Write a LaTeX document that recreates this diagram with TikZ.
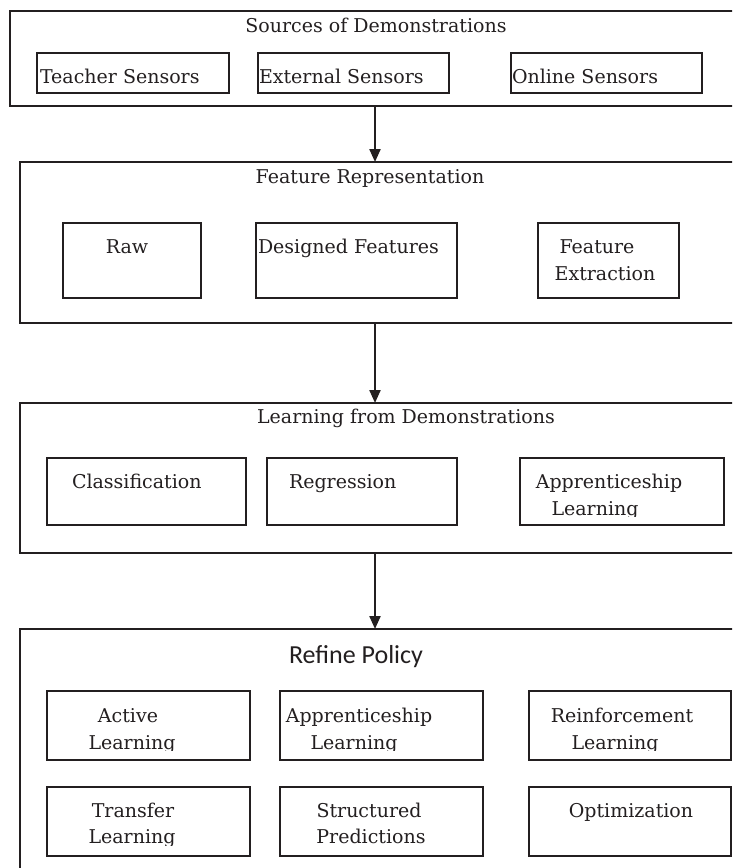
\documentclass[tikz,border=0pt]{standalone}
\usepackage{fontspec}
\setmainfont{DejaVu Serif}
\newfontfamily\calib{Carlito}
\usetikzlibrary{arrows.meta}
\definecolor{ink}{HTML}{231F20}
\begin{document}
\begin{tikzpicture}[x=1pt,y=-1pt,
  obox/.style={draw=ink, line width=2.4pt, inner sep=0pt, outer sep=0pt, rectangle},
  ibox/.style={draw=ink, line width=2.8pt, inner sep=0pt, outer sep=0pt, rectangle},
  txt/.style={inner sep=0pt, outer sep=0pt, text=ink, font=\fontsize{19}{22}\selectfont, anchor=base},
  ltxt/.style={txt, anchor=base west},
  arr/.style={draw=ink, line width=2.2pt, -{Triangle[width=11pt,length=13pt]}}
]
\clip (0,0) rectangle (732,868);
\fill[white] (0,0) rectangle (732,868);

% ---- Sources of Demonstrations
\node[obox, minimum width=735pt, minimum height=95pt] (b1) at (377.5,58.5) {};
\node[txt] (t1) at (376,32) {Sources of Demonstrations};
\node[ibox, minimum width=192pt, minimum height=40pt] (teach) at (133,73) {};
\node[ibox, minimum width=191pt, minimum height=40pt] (ext) at (353.5,73) {};
\node[ibox, minimum width=191pt, minimum height=40pt] (onl) at (606.5,73) {};
\node[ltxt] (teachT) at (40,83) {Teacher Sensors};
\node[ltxt] (extT) at (259,83) {External Sensors};
\node[ltxt] (onlT) at (512,83) {Online Sensors};

% ---- Feature Representation
\node[obox, minimum width=725pt, minimum height=161pt] (b2) at (382.5,242.5) {};
\node[txt] (t2) at (370,183) {Feature Representation};
\node[ibox, minimum width=138pt, minimum height=75pt] (raw) at (132,260.5) {};
\node[ibox, minimum width=201pt, minimum height=75pt] (des) at (356.5,260.5) {};
\node[ibox, minimum width=141pt, minimum height=75pt] (fex) at (608.5,260.5) {};
\node[txt] (rawT) at (127,253) {Raw};
\node[ltxt] (desT) at (258,253) {Designed Features};
\node[txt] (fexA) at (597,253) {Feature};
\node[txt] (fexB) at (605,280) {Extraction};

% ---- Learning from Demonstrations
\node[obox, minimum width=725pt, minimum height=150pt] (b3) at (382.5,478) {};
\node[txt] (t3) at (406,423) {Learning from Demonstrations};
\node[ibox, minimum width=199pt, minimum height=67pt] (cls) at (146.5,491.5) {};
\node[ibox, minimum width=190pt, minimum height=67pt] (reg) at (362,491.5) {};
\node[ibox, minimum width=204pt, minimum height=67pt] (app1) at (622,491.5) {};
\node[ltxt] (clsT) at (72,488) {Classification};
\node[ltxt] (regT) at (289,488) {Regression};
\node[txt] (app1A) at (609,488) {Apprenticeship};
\begin{scope}
\clip (520,458) rectangle (724,516.5);
\node[txt] (app1B) at (595,515) {Learning};
\end{scope}

% ---- Refine Policy
\node[obox, minimum width=725pt, minimum height=256pt] (b4) at (382.5,757) {};
\node[txt, font=\calib\fontsize{26}{30}\selectfont] (t4) at (356,663) {Refine Policy};
\node[ibox, minimum width=203pt, minimum height=69pt] (act) at (148.5,725.5) {};
\node[ibox, minimum width=203pt, minimum height=69pt] (app2) at (381.5,725.5) {};
\node[ibox, minimum width=202pt, minimum height=69pt] (rein) at (630,725.5) {};
\node[ibox, minimum width=203pt, minimum height=69pt] (trans) at (148.5,821.5) {};
\node[ibox, minimum width=203pt, minimum height=69pt] (struct) at (381.5,821.5) {};
\node[ibox, minimum width=202pt, minimum height=69pt] (opt) at (630,821.5) {};
\node[txt] (actA) at (128,722) {Active};
\node[txt] (app2A) at (359,722) {Apprenticeship};
\node[txt] (reinA) at (622,722) {Reinforcement};
\begin{scope}
\clip (40,691) rectangle (732,750.5);
\node[txt] (actB) at (132,749) {Learning};
\node[txt] (app2B) at (354,749) {Learning};
\node[txt] (reinB) at (615,749) {Learning};
\end{scope}
\node[txt] (transA) at (133,817) {Transfer};
\node[txt] (structA) at (369,817) {Structured};
\node[txt] (optA) at (631,817) {Optimization};
\begin{scope}
\clip (40,787) rectangle (732,845);
\node[txt] (transB) at (132,843.5) {Learning};
\node[txt] (structB) at (371,843.5) {Predictions};
\end{scope}

% ---- connectors
\coordinate (ax) at (375,0);
\draw[arr] (ax |- b1.south) -- (ax |- b2.north);
\draw[arr] (ax |- b2.south) -- (ax |- b3.north);
\draw[arr] (ax |- b3.south) -- (ax |- b4.north);
\end{tikzpicture}
\end{document}
